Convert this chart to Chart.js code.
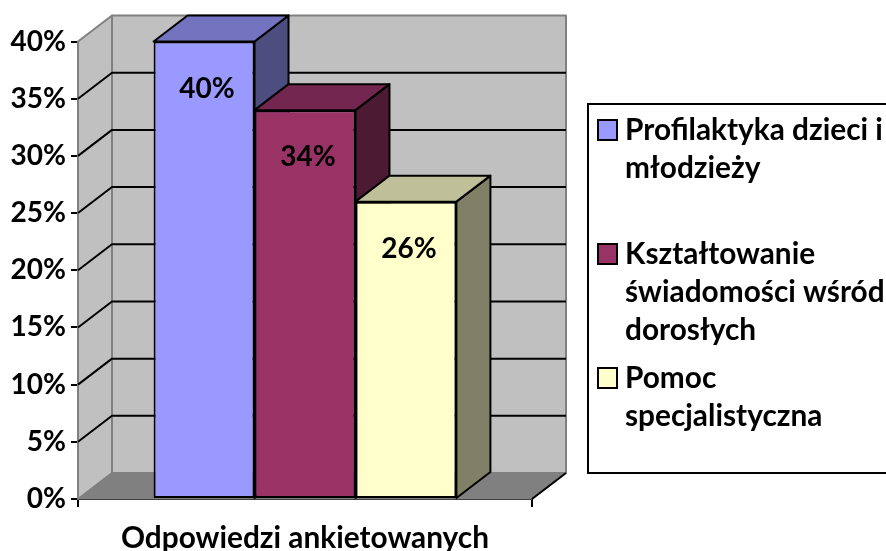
<!DOCTYPE html>
<html>
<head>
<meta charset="utf-8">
<script src="https://cdn.jsdelivr.net/npm/chart.js@4"></script>
<style>
    body { margin: 0; background: #fff; }
</style>
</head>
<body>
<canvas id="myChart" width="886" height="551"></canvas>
<script>
const categories = ['Odpowiedzi ankietowanych'];
const seriesNames = [
    ['Profilaktyka dzieci i', 'młodzieży'],
    ['Kształtowanie', 'świadomości wśród', 'dorosłych'],
    ['Pomoc', 'specjalistyczna']
];
const seriesValues = [[40], [34], [26]];
const frontColors = ['#9999ff', '#993366', '#ffffcc'];
const topColors = ['#7373bf', '#732650', '#bfbf99'];
const sideColors = ['#4d4d80', '#4d1a33', '#808066'];

const fontFamily = 'Lato, sans-serif';
const depthX = 34;
const depthY = 26;

function poly(ctx, points, fill, stroke, width) {
    ctx.beginPath();
    points.forEach(([x, y], i) => (i ? ctx.lineTo(x, y) : ctx.moveTo(x, y)));
    ctx.closePath();
    ctx.fillStyle = fill;
    ctx.fill();
    if (stroke) {
        ctx.strokeStyle = stroke;
        ctx.lineWidth = width;
        ctx.lineJoin = 'round';
        ctx.stroke();
    }
}

// Walls, floor, grid and the 3D bars
const wallsPlugin = {
    id: 'walls',
    beforeDatasetsDraw(chart) {
        const ctx = chart.ctx;
        const { left, right } = chart.chartArea;
        const yScale = chart.scales.y;
        const y0 = yScale.getPixelForValue(0);
        const yTop = yScale.getPixelForValue(40);
        ctx.save();
        poly(ctx, [[left + depthX, yTop - depthY], [right + depthX, yTop - depthY], [right + depthX, y0 - depthY], [left + depthX, y0 - depthY]], '#c0c0c0', '#808080', 2);
        poly(ctx, [[left, yTop], [left + depthX, yTop - depthY], [left + depthX, y0 - depthY], [left, y0]], '#c0c0c0', '#808080', 2);
        poly(ctx, [[left, y0], [left + depthX, y0 - depthY], [right + depthX, y0 - depthY], [right, y0]], '#808080', '#808080', 1);

        ctx.strokeStyle = '#000';
        ctx.lineWidth = 2;
        yScale.ticks.forEach(t => {
            if (t.value === 0 || t.value === 40) return;
            const y = yScale.getPixelForValue(t.value);
            ctx.beginPath();
            ctx.moveTo(left, y);
            ctx.lineTo(left + depthX, y - depthY);
            ctx.lineTo(right + depthX, y - depthY);
            ctx.stroke();
        });

        ctx.beginPath();
        ctx.moveTo(right, y0);
        ctx.lineTo(right + depthX, y0 - depthY);
        ctx.stroke();

        // Chart.js paints the last dataset first; here the left bar has to go first
        seriesValues.forEach((values, i) => {
            const meta = chart.getDatasetMeta(i);
            const bar = meta.data[0];
            const x1 = bar.x - bar.width / 2;
            const x2 = bar.x + bar.width / 2;
            poly(ctx, [[x2, bar.y], [x2 + depthX, bar.y - depthY], [x2 + depthX, bar.base - depthY], [x2, bar.base]], sideColors[i], '#000', 2);
            poly(ctx, [[x1, bar.y], [x1 + depthX, bar.y - depthY], [x2 + depthX, bar.y - depthY], [x2, bar.y]], topColors[i], '#000', 2);
            meta.controller.draw();
        });
        ctx.restore();
        return false;
    },
    afterDraw(chart) {
        const ctx = chart.ctx;
        ctx.save();
        // value labels
        ctx.fillStyle = '#000';
        ctx.font = 'bold 28px ' + fontFamily;
        ctx.textAlign = 'center';
        ctx.textBaseline = 'middle';
        seriesValues.forEach((values, i) => {
            const bar = chart.getDatasetMeta(i).data[0];
            ctx.fillText(values[0] + '%', bar.x + 3, bar.y + 47);
        });

        // legend
        ctx.fillStyle = '#fff';
        ctx.strokeStyle = '#000';
        ctx.lineWidth = 2;
        ctx.beginPath();
        ctx.rect(588, 104, 310, 369);
        ctx.fill();
        ctx.stroke();
        ctx.textAlign = 'left';
        ctx.font = 'bold 29.8px ' + fontFamily;
        seriesNames.forEach((lines, i) => {
            const y = 130 + i * 124;
            ctx.fillStyle = frontColors[i];
            ctx.fillRect(598, y - 10, 19, 20);
            ctx.strokeRect(598, y - 10, 19, 20);
            ctx.fillStyle = '#000';
            lines.forEach((line, j) => ctx.fillText(line, 625, y + j * 38));
        });
        ctx.restore();
    }
};

const datasets = seriesValues.map((values, i) => ({
    label: seriesNames[i].join(' '),
    data: values,
    backgroundColor: frontColors[i],
    borderColor: '#000',
    borderWidth: 2,
    borderSkipped: false,
    clip: false
}));

new Chart(document.getElementById('myChart').getContext('2d'), {
    type: 'bar',
    data: { labels: categories, datasets: datasets },
    plugins: [wallsPlugin],
    options: {
        responsive: false,
        animation: false,
        layout: { padding: { top: 41.5, right: 354, left: 0, bottom: 0 } },
        plugins: { legend: { display: false }, tooltip: { enabled: false } },
        datasets: { bar: { categoryPercentage: 0.667, barPercentage: 1 } },
        scales: {
            x: {
                afterFit: scale => { scale.height = 52; },
                grid: { offset: true, drawOnChartArea: false, color: '#000', lineWidth: 2, tickLength: 8 },
                border: { color: '#000', width: 2 },
                ticks: { color: '#000', padding: 14, font: { family: fontFamily, size: 29.8, weight: 'bold' } }
            },
            y: {
                min: 0,
                max: 40,
                afterFit: scale => { scale.width = 78; },
                grid: { drawOnChartArea: false, color: '#000', lineWidth: 2, tickLength: 7 },
                border: { color: '#000', width: 2 },
                ticks: {
                    stepSize: 5,
                    color: '#000',
                    padding: 5,
                    font: { family: fontFamily, size: 28, weight: 'bold' },
                    callback: value => value + '%'
                }
            }
        }
    }
});
</script>
</body>
</html>
